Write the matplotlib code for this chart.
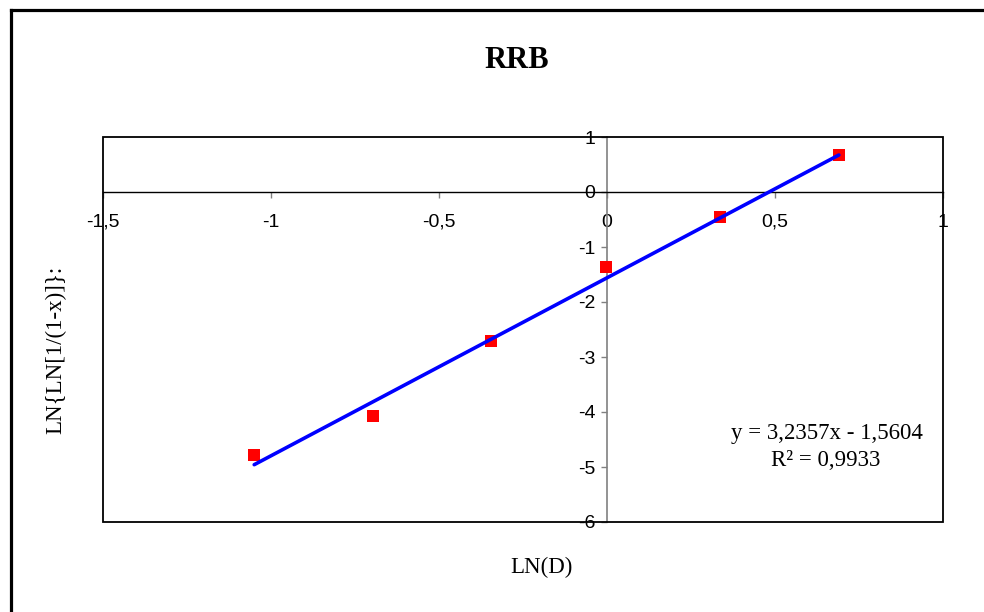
import numpy as np
import matplotlib
matplotlib.use("Agg")
import matplotlib.pyplot as plt
from matplotlib.lines import Line2D
from matplotlib.patches import Rectangle

# datos
ln_d = [-1.05, -0.696, -0.345, -0.003, 0.336, 0.69]
ln_ln = [-4.78, -4.07, -2.71, -1.37, -0.455, 0.67]

pendiente = 3.2357
intercepto = -1.5604
r2 = 0.9933

x_ticks = [-1.5, -1, -0.5, 0, 0.5, 1]
x_labels = ["-1,5", "-1", "-0,5", "0", "0,5", "1"]
y_ticks = [-6, -5, -4, -3, -2, -1, 0, 1]
y_labels = ["-6", "-5", "-4", "-3", "-2", "-1", "0", "1"]

W, H = 984, 612
fig = plt.figure(figsize=(W / 100, H / 100), dpi=100)
ax = fig.add_axes([103 / W, 1 - 522 / H, 840 / W, 385 / H])

# puntos y recta de tendencia
ax.plot(ln_d, ln_ln, linestyle="none", marker="s", markersize=8.3,
        color="#ff0000", markeredgewidth=0, zorder=3)
xs = np.array([min(ln_d), max(ln_d)])
ax.plot(xs, pendiente * xs + intercepto, color="#0000ff", linewidth=2.6,
        solid_capstyle="round", zorder=4)

ax.set_xlim(-1.5, 1)
ax.set_ylim(-6, 1)

# ejes cruzando en el origen
ax.spines["left"].set_position(("data", 0))
ax.spines["bottom"].set_position(("data", 0))
ax.spines["left"].set_color("#808080")
ax.spines["left"].set_linewidth(1.2)
ax.spines["bottom"].set_color("black")
ax.spines["bottom"].set_linewidth(1.0)
ax.spines["top"].set_visible(False)
ax.spines["right"].set_visible(False)
ax.add_patch(Rectangle((0, 0), 1, 1, transform=ax.transAxes, fill=False,
                       edgecolor="black", linewidth=1.3, clip_on=False, zorder=5))

ax.set_xticks(x_ticks)
ax.set_xticklabels(x_labels)
ax.set_yticks(y_ticks)
ax.set_yticklabels(y_labels)
ax.tick_params(axis="x", direction="out", length=4.5, width=1, color="#808080",
               pad=11, labelsize=14)
ax.tick_params(axis="y", direction="out", length=4.5, width=1, color="#808080",
               pad=4, labelsize=14)
for lbl in ax.get_xticklabels() + ax.get_yticklabels():
    lbl.set_fontfamily("Liberation Sans")

# textos
fig.text(517 / W, 1 - 60 / H, "RRB", ha="center", va="center",
         fontsize=22, fontweight="bold", family="Liberation Serif")
fig.text(541 / W, 1 - 567 / H, "LN(D)", ha="center", va="center",
         fontsize=16.5, family="Liberation Serif")
fig.text(56 / W, 1 - 350 / H, "LN{LN[1/(1-x)]}:", ha="center", va="center",
         rotation=90, fontsize=16.5, family="Liberation Serif")
fig.text(827 / W, 1 - 433 / H, "y = 3,2357x - 1,5604", ha="center", va="center",
         fontsize=16.5, family="Liberation Serif")
fig.text(826 / W, 1 - 461 / H, "R² = 0,9933", ha="center", va="center",
         fontsize=16.5, family="Liberation Serif")

# borde exterior (solo arriba e izquierda visibles)
fig.add_artist(Line2D([10.5 / W, 1.0], [1 - 9.5 / H, 1 - 9.5 / H],
                      transform=fig.transFigure, color="black", linewidth=2.3))
fig.add_artist(Line2D([10.5 / W, 10.5 / W], [1 - 9.5 / H, 0.0],
                      transform=fig.transFigure, color="black", linewidth=2.3))

fig.savefig("out.png", dpi=100, facecolor="white")
